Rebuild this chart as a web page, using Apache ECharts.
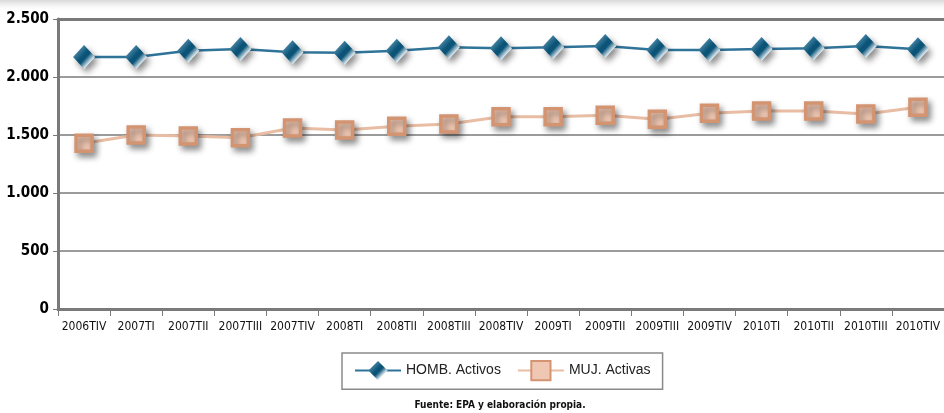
<!DOCTYPE html>
<html>
<head>
<meta charset="utf-8">
<script src="https://cdn.jsdelivr.net/npm/echarts@6/dist/echarts.min.js"></script>
<style>
html,body{margin:0;padding:0;background:#fff;}
#c{width:944px;height:413px;}
</style>
</head>
<body>
<div id="c"></div>
<script>
const categories = ["2006TIV","2007TI","2007TII","2007TIII","2007TIV","2008TI","2008TII","2008TIII","2008TIV","2009TI","2009TII","2009TIII","2009TIV","2010TI","2010TII","2010TIII","2010TIV"];
const hombActivos = [2172,2172,2227,2241,2213,2210,2227,2256,2247,2256,2267,2233,2233,2241,2247,2268,2240];
const mujActivas = [1428,1500,1491,1477,1560,1543,1576,1595,1658,1658,1670,1635,1687,1707,1707,1681,1739];
const yTicks = [0,500,1000,1500,2000,2500];
const seriesNames = ["HOMB. Activos","MUJ. Activas"];
const sourceText = "Fuente: EPA y elaboración propia.";

const COND = '"DejaVu Sans Condensed","DejaVu Sans",sans-serif';
const chart = echarts.init(document.getElementById('c'), null, {renderer:'canvas'});

const diamondFill = new echarts.graphic.LinearGradient(0,0,1,1,[
  {offset:0,color:'#7fb2cc'},
  {offset:0.45,color:'#0b5478'},
  {offset:0.55,color:'#0b5478'},
  {offset:0.75,color:'#e9f3f8'},
  {offset:1,color:'#4f8fb0'}
]);

chart.setOption({
  animation:false,
  backgroundColor:'#fff',
  grid:{left:58,right:-3,top:19,bottom:104,containLabel:false},
  graphic:[
    {type:'rect',shape:{x:0,y:0,width:944,height:12},style:{fill:new echarts.graphic.LinearGradient(0,0,0,1,[{offset:0,color:'#d8d8d8'},{offset:1,color:'rgba(255,255,255,0)'}])},z:-1},
    {type:'text',x:500,y:400,style:{text:sourceText,font:'bold 10px '+COND,fill:'#111',textAlign:'center'}}
  ],
  xAxis:[{
    type:'category',
    data:categories,
    boundaryGap:true,
    axisLine:{lineStyle:{color:'#7a7a7a',width:3}},
    axisTick:{show:true,length:7,lineStyle:{color:'#7a7a7a',width:1}},
    axisLabel:{color:'#111',fontSize:12,fontFamily:COND,margin:12,interval:0}
  },{
    type:'category',
    data:categories,
    position:'top',
    axisLine:{show:true,lineStyle:{color:'#7a7a7a',width:3}},
    axisTick:{show:false},
    axisLabel:{show:false}
  }],
  yAxis:{
    type:'value',
    min:yTicks[0],max:yTicks[yTicks.length-1],interval:500,
    axisLine:{show:true,lineStyle:{color:'#7a7a7a',width:3}},
    axisTick:{show:true,length:5,lineStyle:{color:'#7a7a7a'}},
    axisLabel:{color:'#000',fontSize:15,fontWeight:'bold',fontFamily:COND,margin:9,
      formatter:v=>String(v).replace(/\B(?=(\d{3})+(?!\d))/g,'.')},
    splitLine:{lineStyle:{color:'#7a7a7a',width:1.5}}
  },
  legend:{
    left:342,top:353,
    padding:[7,12,8,12],
    borderColor:'#8a8a8a',borderWidth:1.5,
    itemWidth:46,itemHeight:24,itemGap:16,
    textStyle:{fontSize:14,color:'#222',fontFamily:'"Liberation Sans",sans-serif'},
    data:seriesNames
  },
  series:[
    {
      name:seriesNames[0],type:'line',data:hombActivos,
      symbol:'diamond',symbolSize:[22,24],
      lineStyle:{color:'#2f7399',width:2.5},
      itemStyle:{color:diamondFill,borderWidth:0,shadowColor:'rgba(0,0,0,0.45)',shadowBlur:6,shadowOffsetX:3,shadowOffsetY:4}
    },
    {
      name:seriesNames[1],type:'line',data:mujActivas,
      symbol:'rect',symbolSize:16,
      lineStyle:{color:'#e9bda4',width:3},
      itemStyle:{color:'#f0c7b2',borderColor:'#d39472',borderWidth:3.5,shadowColor:'rgba(0,0,0,0.4)',shadowBlur:6,shadowOffsetX:3,shadowOffsetY:4}
    }
  ]
});
</script>
</body>
</html>
